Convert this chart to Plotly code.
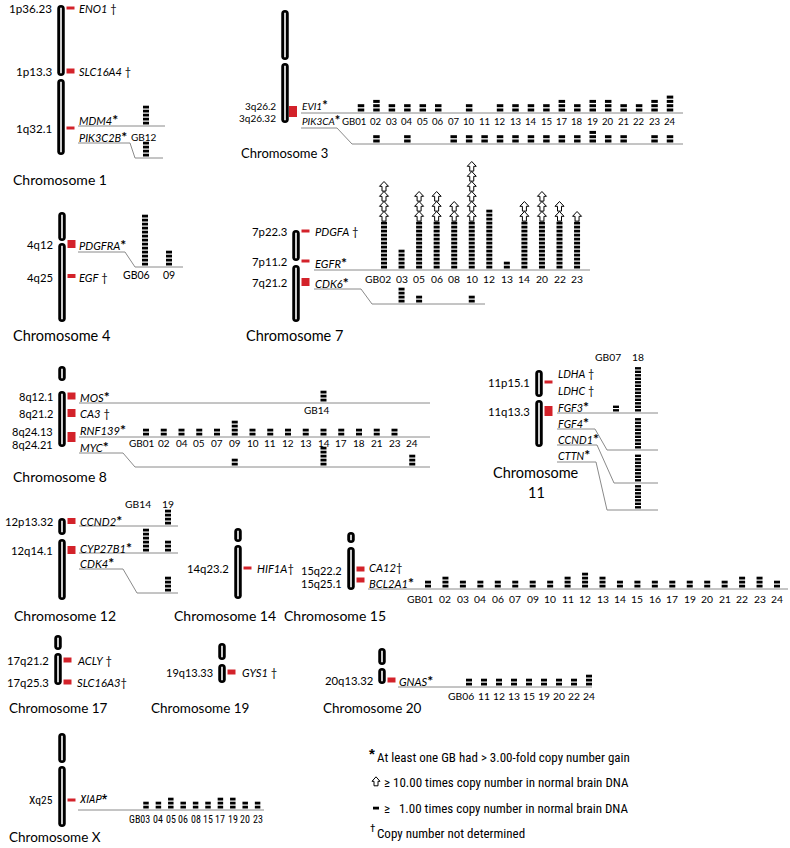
import plotly.graph_objects as go

# ================= DATA =================
chr1_samples = ["GB12"]
chr1_MDM4 = [5]
chr1_PIK3C2B = [4]

chr3_samples = ["GB01", "02", "03", "04", "05", "06", "07", "10", "11", "12", "13",
                "14", "15", "17", "18", "19", "20", "21", "22", "23", "24"]
chr3_EVI1 = [2, 3, 2, 2, 2, 2, 0, 2, 0, 2, 2, 2, 2, 3, 2, 3, 3, 2, 2, 3, 4]
chr3_PIK3CA = [0, 2, 0, 2, 0, 0, 2, 2, 2, 2, 2, 2, 2, 2, 2, 3, 2, 2, 0, 2, 2]

chr4_samples = ["GB06", "09"]
chr4_PDGFRA = [13, 4]

chr7_samples = ["GB02", "03", "05", "06", "08", "10", "12", "13", "14", "20", "22", "23"]
chr7_EGFR = [12, 5, 12, 12, 12, 12, 15, 2, 12, 12, 12, 12]
chr7_EGFR_x10 = [4, 0, 3, 3, 2, 6, 0, 0, 2, 3, 2, 1]
chr7_CDK6 = [0, 4, 2, 0, 0, 2, 0, 0, 0, 0, 0, 0]

chr8_samples = ["GB01", "02", "04", "05", "07", "09", "10", "11", "12", "13", "14",
                "17", "18", "21", "23", "24"]
chr8_MOS = [0, 0, 0, 0, 0, 0, 0, 0, 0, 0, 3, 0, 0, 0, 0, 0]
chr8_RNF139 = [2, 2, 2, 2, 2, 4, 2, 2, 2, 2, 2, 2, 2, 2, 2, 0]
chr8_MYC = [0, 0, 0, 0, 0, 2, 0, 0, 0, 0, 5, 0, 0, 0, 0, 3]

chr11_samples = ["GB07", "18"]
chr11_FGF3 = [2, 13]
chr11_FGF4 = [0, 9]
chr11_CCND1 = [0, 8]
chr11_CTTN = [0, 7]

chr12_samples = ["GB14", "19"]
chr12_CCND2 = [0, 4]
chr12_CYP27B1 = [6, 3]
chr12_CDK4 = [0, 4]

chr15_samples = ["GB01", "02", "03", "04", "06", "07", "09", "10", "11", "12", "13",
                 "14", "15", "16", "17", "19", "20", "21", "22", "23", "24"]
chr15_BCL2A1 = [2, 3, 2, 2, 2, 2, 2, 2, 3, 4, 3, 2, 2, 2, 2, 2, 2, 2, 3, 3, 2]

chr20_samples = ["GB06", "11", "12", "13", "15", "19", "20", "22", "24"]
chr20_GNAS = [2, 2, 2, 2, 2, 2, 2, 2, 3]

chrX_samples = ["GB03", "04", "05", "06", "08", "15", "17", "19", "20", "23"]
chrX_XIAP = [2, 2, 3, 2, 2, 2, 3, 3, 2, 2]

# gene names with marks ("*" = >3-fold gain, "†" = not determined)
genes_chr1 = [("ENO1", " †"), ("SLC16A4", " †"), ("MDM4", "*"), ("PIK3C2B", "*")]
genes_chr3 = [("EVI1", "*"), ("PIK3CA", "*")]
genes_chr4 = [("PDGFRA", "*"), ("EGF", " †")]
genes_chr7 = [("PDGFA", " †"), ("EGFR", "*"), ("CDK6", "*")]
genes_chr8 = [("MOS", "*"), ("CA3", " †"), ("RNF139", "*"), ("MYC", "*")]
genes_chr11 = [("LDHA", " †"), ("LDHC", " †"), ("FGF3", "*"), ("FGF4", "*"), ("CCND1", "*"), ("CTTN", "*")]
genes_chr12 = [("CCND2", "*"), ("CYP27B1", "*"), ("CDK4", "*")]
genes_chr14 = [("HIF1A", "†")]
genes_chr15 = [("CA12", "†"), ("BCL2A1", "*")]
genes_chr17 = [("ACLY", " †"), ("SLC16A3", "†")]
genes_chr19 = [("GYS1", " †")]
genes_chr20 = [("GNAS", "*")]
genes_chrX = [("XIAP", "*")]

bands_chr1 = ["1p36.23", "1p13.3", "1q32.1"]
bands_chr3 = ["3q26.2", "3q26.32"]
bands_chr4 = ["4q12", "4q25"]
bands_chr7 = ["7p22.3", "7p11.2", "7q21.2"]
bands_chr8 = ["8q12.1", "8q21.2", "8q24.13", "8q24.21"]
bands_chr11 = ["11p15.1", "11q13.3"]
bands_chr12 = ["12p13.32", "12q14.1"]
bands_chr14 = ["14q23.2"]
bands_chr15 = ["15q22.2", "15q25.1"]
bands_chr17 = ["17q21.2", "17q25.3"]
bands_chr19 = ["19q13.33"]
bands_chr20 = ["20q13.32"]
bands_chrX = ["Xq25"]

legend_texts = ["At least one GB had > 3.00-fold copy number gain",
                "≥ 10.00 times copy number in normal brain DNA",
                "≥ \u00a0 1.00 times copy number in normal brain DNA",
                "Copy number not determined"]

# ================= STYLE / LAYOUT =================
FONT = "Lato, 'Open Sans', sans-serif"
NARROW = "'Liberation Sans Narrow', 'Arial Narrow', 'Roboto Condensed', Roboto, sans-serif"
ARIAL = "'Liberation Sans', Arial, sans-serif"
RED = "#d3222a"
GREY = "#8a8a8a"
BAND_SIZE = 11.3
GENE_SIZE = 11.2
COL_SIZE = 10
TITLE_SIZE = 14

fig = go.Figure()
shapes, ann = [], []


def txt(x, y, s, size=10.5, family=FONT, xanchor="left", yanchor="middle"):
    ann.append(dict(x=x, y=y, xref="x", yref="y", text=s, showarrow=False,
                    xanchor=xanchor, yanchor=yanchor, borderpad=0,
                    font=dict(size=size, family=family, color="black")))


def capsule(x, top, bot, w):
    r = w / 2
    return (f"M{x-r},{top+r} Q{x-r},{top} {x},{top} Q{x+r},{top} {x+r},{top+r} "
            f"L{x+r},{bot-r} Q{x+r},{bot} {x},{bot} Q{x-r},{bot} {x-r},{bot-r} Z")


def chromosome(x, p, q, w=7.5):
    for top, bot in (p, q):
        shapes.append(dict(type="path", path=capsule(x, top, bot, w), fillcolor="black",
                           line=dict(width=0), xref="x", yref="y"))
        shapes.append(dict(type="line", x0=x, x1=x, y0=top + 2.8, y1=bot - 2.8,
                           line=dict(color="white", width=1.6), xref="x", yref="y"))


def red(cx, y, h):
    shapes.append(dict(type="rect", x0=cx + 5.5, x1=cx + 13.5, y0=y - h / 2, y1=y + h / 2,
                       fillcolor=RED, line=dict(width=0), xref="x", yref="y"))


def poly(pts):
    path = "M" + " L".join(f"{x},{y}" for x, y in pts)
    shapes.append(dict(type="path", path=path, line=dict(color=GREY, width=1),
                       xref="x", yref="y"))


def bands(cx, labels, ys, size=BAND_SIZE, family=FONT):
    for lab, y in zip(labels, ys):
        txt(cx - 8, y, lab, size=size, family=family, xanchor="right")


def genes(x, glist, ys, size=GENE_SIZE, family=FONT, star=14):
    for (name, mark), y in zip(glist, ys):
        if mark == "*":
            s = (f"<i>{name}</i><span style='font-size:{star}px;font-weight:bold'>*</span>")
        else:
            s = f"<i>{name}</i>{mark}"
        txt(x, y, s, size=size, family=family)


def cols(x0, dx, n):
    return [x0 + i * dx for i in range(n)]


def blocks(xs, counts, base, pitch=4.0, h=2.8, w=6.0):
    X, Y = [], []
    for x, n in zip(xs, counts):
        for i in range(n):
            X.append(x)
            Y.append(base - h / 2 - i * pitch)
    fig.add_trace(go.Scatter(x=X, y=Y, mode="markers", hoverinfo="skip",
                             marker=dict(symbol="line-ew", size=w / 1.4, color="black",
                                         line=dict(width=h, color="black"))))


def arrows(xs, nblocks, narrows, base, pitch=4.0, h=2.8, apitch=10.0, aw=9.0, ah=9.6):
    X, Y = [], []
    for x, nb, na in zip(xs, nblocks, narrows):
        start = base - (nb - 1) * pitch - h - 0.6
        for j in range(na):
            b = start - j * apitch
            t = b - ah
            hh = t + ah * 0.5
            pts = [(x - 2, b), (x + 2, b), (x + 2, hh), (x + aw / 2, hh), (x, t),
                   (x - aw / 2, hh), (x - 2, hh), (x - 2, b)]
            X += [p[0] for p in pts] + [None]
            Y += [p[1] for p in pts] + [None]
    fig.add_trace(go.Scatter(x=X, y=Y, mode="lines", fill="toself", fillcolor="white",
                             hoverinfo="skip", line=dict(color="black", width=1)))


def col_labels(xs, labels, y, size=COL_SIZE, family=FONT, digit=0.58, shift=0):
    numw = digit * size * 2
    for x, lab in zip(xs, labels):
        if lab.startswith("GB"):
            txt(x + numw / 2 + shift, y, lab, size=size, family=family, xanchor="right")
        else:
            txt(x, y, lab, size=size, family=family, xanchor="center")


def title(x, y, s, anchor="left", size=TITLE_SIZE):
    txt(x, y, s, size=size, family=FONT, xanchor=anchor)


# ---------- Chromosome 1 ----------
cx = 61
chromosome(cx, (5, 76), (79, 155))
bands(cx, bands_chr1, [8, 71, 128], size=11.6)
for y, h in [(8, 3), (71, 5), (128, 3)]:
    red(cx, y, h)
genes(78, genes_chr1, [8, 71, 119, 136], size=11)
poly([(78, 126), (165, 126)])
poly([(78, 143), (130, 143), (135, 158), (163, 158)])
x1 = cols(146, 22, 1)
blocks(x1, chr1_MDM4, 124.5)
blocks(x1, chr1_PIK3C2B, 156.5)
col_labels(x1, chr1_samples, 137, size=10, shift=6)
title(12, 179, "Chromosome 1")

# ---------- Chromosome 3 ----------
cx = 285
chromosome(cx, (10, 60), (63, 123))
bands(cx, bands_chr3, [106, 118], size=10)
red(cx - 1.5, 111.5, 11)
genes(301, genes_chr3, [105, 120], size=10, star=13)
poly([(301, 113), (683, 113)])
poly([(301, 128), (337, 128), (352, 144), (683, 144)])
x3 = cols(361, 15.45, len(chr3_samples))
blocks(x3, chr3_EVI1, 111.5, pitch=4.3, h=3.0, w=6.5)
blocks(x3, chr3_PIK3CA, 142.5, pitch=4.3, h=3.0, w=6.5)
col_labels(x3, chr3_samples, 121, size=9.6)
title(240, 153, "Chromosome 3", size=13)

# ---------- Chromosome 4 ----------
cx = 62
chromosome(cx, (212, 241), (243, 322))
bands(cx, bands_chr4, [244, 277])
red(cx, 244, 8)
red(cx, 276, 4)
genes(78, genes_chr4, [244, 277])
poly([(78, 252), (125, 252), (135, 267), (183, 267)])
x4 = cols(145, 24, len(chr4_samples))
blocks(x4, chr4_PDGFRA, 265.5)
col_labels(x4, chr4_samples, 275, size=10.5)
title(12, 335, "Chromosome 4", size=14.5)

# ---------- Chromosome 7 ----------
cx = 296
chromosome(cx, (230, 261), (265, 322))
bands(cx, bands_chr7, [231, 261, 282])
red(cx, 231, 3)
red(cx, 261, 3)
red(cx, 282, 8)
genes(314, genes_chr7, [231, 262, 282])
poly([(314, 270), (590, 270)])
poly([(314, 289), (361, 289), (372, 304), (485, 304)])
x7 = cols(384, 17.55, len(chr7_samples))
blocks(x7, chr7_EGFR, 268.5)
arrows(x7, chr7_EGFR, chr7_EGFR_x10, 268.5)
blocks(x7, chr7_CDK6, 302.5)
col_labels(x7, chr7_samples, 279, size=10.3, shift=2)
title(245, 335, "Chromosome 7", size=14.5)

# ---------- Chromosome 8 ----------
cx = 62
chromosome(cx, (366, 381), (391, 447))
bands(cx, bands_chr8, [396, 413, 431, 444], size=11)
red(cx, 396, 7)
red(cx, 413, 8)
red(cx, 437, 10)
genes(79, genes_chr8, [396, 413, 429, 446])
poly([(79, 403), (430, 403)])
poly([(79, 437), (430, 437)])
poly([(79, 453), (123, 453), (135, 467), (430, 467)])
x8 = cols(146, 17.75, len(chr8_samples))
blocks(x8, chr8_MOS, 401.5)
col_labels([x for x, n in zip(x8, chr8_MOS) if n > 0],
           ["GB" + s for s, n in zip(chr8_samples, chr8_MOS) if n > 0], 410, shift=2)
blocks(x8, chr8_RNF139, 435.5)
blocks(x8, chr8_MYC, 465.5)
col_labels(x8, chr8_samples, 443, shift=4)
title(12, 476, "Chromosome 8")

# ---------- Chromosome 11 ----------
cx = 539
chromosome(cx, (370, 397), (400, 447))
bands(cx, bands_chr11, [382, 411])
red(cx, 382, 3)
red(cx, 411, 10)
genes(557, genes_chr11, [373, 390, 406, 422, 438, 454], size=10.8)
poly([(557, 413), (658, 413)])
poly([(557, 429), (595, 429), (607, 450), (658, 450)])
poly([(557, 445), (597, 445), (614, 483), (658, 483)])
poly([(557, 462), (596, 462), (607, 510), (658, 510)])
x11 = cols(616, 22, len(chr11_samples))
blocks(x11, chr11_FGF3, 411.5, pitch=3.5, h=2.4)
blocks(x11, chr11_FGF4, 448.5, pitch=3.5, h=2.4)
blocks(x11, chr11_CCND1, 481.5, pitch=3.5, h=2.4)
blocks(x11, chr11_CTTN, 508.5, pitch=3.5, h=2.4)
col_labels(x11, chr11_samples, 357, size=10.3)
title(536, 472, "Chromosome", anchor="center", size=14.5)
title(536, 492, "11", anchor="center", size=14.5)

# ---------- Chromosome 12 ----------
cx = 62
chromosome(cx, (518, 535), (539, 600))
bands(cx, bands_chr12, [521, 550])
red(cx, 521, 6)
red(cx, 550, 8)
genes(79, genes_chr12, [520, 547, 562])
poly([(79, 526), (178, 526)])
poly([(79, 553), (178, 553)])
poly([(79, 569), (123, 569), (137, 593), (178, 593)])
x12 = cols(146, 22, len(chr12_samples))
blocks(x12, chr12_CCND2, 524.5)
blocks(x12, chr12_CYP27B1, 551.5)
blocks(x12, chr12_CDK4, 591.5)
col_labels(x12, chr12_samples, 504, size=10.3)
title(13, 615, "Chromosome 12")

# ---------- Chromosome 14 ----------
cx = 238
chromosome(cx, (528, 542), (545, 599))
bands(cx, bands_chr14, [568])
red(cx, 568, 3)
genes(256, genes_chr14, [568])
title(173, 615, "Chromosome 14")

# ---------- Chromosome 15 ----------
cx = 351
chromosome(cx, (532, 543), (547, 590))
bands(cx, bands_chr15, [570, 583], size=11)
red(cx, 569, 5)
red(cx, 580, 5)
genes(368, genes_chr15, [567, 582])
poly([(368, 589), (788, 589)])
x15 = cols(428, 17.45, len(chr15_samples))
blocks(x15, chr15_BCL2A1, 587.5)
col_labels(x15, chr15_samples, 599, size=10.3)
title(283, 615, "Chromosome 15")

# ---------- Chromosome 17 ----------
cx = 58
chromosome(cx, (635, 650), (653, 685))
bands(cx, bands_chr17, [660, 682])
red(cx, 660, 5)
red(cx, 682, 5)
genes(76, genes_chr17, [660, 682])
title(8, 708, "Chromosome 17", size=13.5)

# ---------- Chromosome 19 ----------
cx = 222
chromosome(cx, (643, 660), (664, 683))
bands(cx, bands_chr19, [672], size=11)
red(cx, 672, 5)
genes(241, genes_chr19, [672])
title(150, 708, "Chromosome 19", size=13.5)

# ---------- Chromosome 20 ----------
cx = 382
chromosome(cx, (648, 665), (668, 684))
bands(cx, bands_chr20, [680])
red(cx, 680, 5)
genes(398, genes_chr20, [680])
poly([(398, 687), (592, 687)])
x20 = cols(469, 15, len(chr20_samples))
blocks(x20, chr20_GNAS, 685.5)
col_labels(x20, chr20_samples, 696, size=10.3)
title(322, 708, "Chromosome 20", size=13.5)

# ---------- Chromosome X ----------
cx = 62
chromosome(cx, (733, 763), (766, 827))
bands(cx, bands_chrX, [800], size=11.5, family=NARROW)
red(cx, 800, 3)
genes(78, genes_chrX, [799], size=11.5, family=NARROW, star=12)
poly([(78, 810), (264, 810)])
xX = cols(146, 12.4, len(chrX_samples))
blocks(xX, chrX_XIAP, 808.5, w=5.5)
col_labels(xX, chrX_samples, 819, size=10, family=NARROW, digit=0.46)
title(8, 837, "Chromosome X", size=13.5)

# ---------- Legend ----------
LX = 376
ly = [757, 782, 808, 833]
txt(LX - 8, ly[0] - 4, "<b>*</b>", size=15, family=ARIAL)
txt(LX, ly[0], legend_texts[0], size=13, family=NARROW)
arrows([LX], [1], [1], ly[1] + 7.2, aw=8, ah=9)
txt(LX + 7, ly[1], legend_texts[1], size=13, family=NARROW)
blocks([LX], [1], ly[2] + 1.5)
txt(LX + 7, ly[2], legend_texts[2], size=13, family=NARROW)
txt(LX - 7, ly[3] - 5, "†", size=11, family=NARROW)
txt(LX, ly[3], legend_texts[3], size=13, family=NARROW)

fig.update_layout(
    width=790, height=848, margin=dict(l=0, r=0, t=0, b=0),
    xaxis=dict(range=[0, 790], visible=False, fixedrange=True),
    yaxis=dict(range=[848, 0], visible=False, fixedrange=True),
    plot_bgcolor="white", paper_bgcolor="white", showlegend=False,
    shapes=shapes, annotations=ann,
)
fig.write_html("out.html", config={"displayModeBar": False},
               post_script="document.body.style.margin='0px';document.body.style.overflow='hidden';")
